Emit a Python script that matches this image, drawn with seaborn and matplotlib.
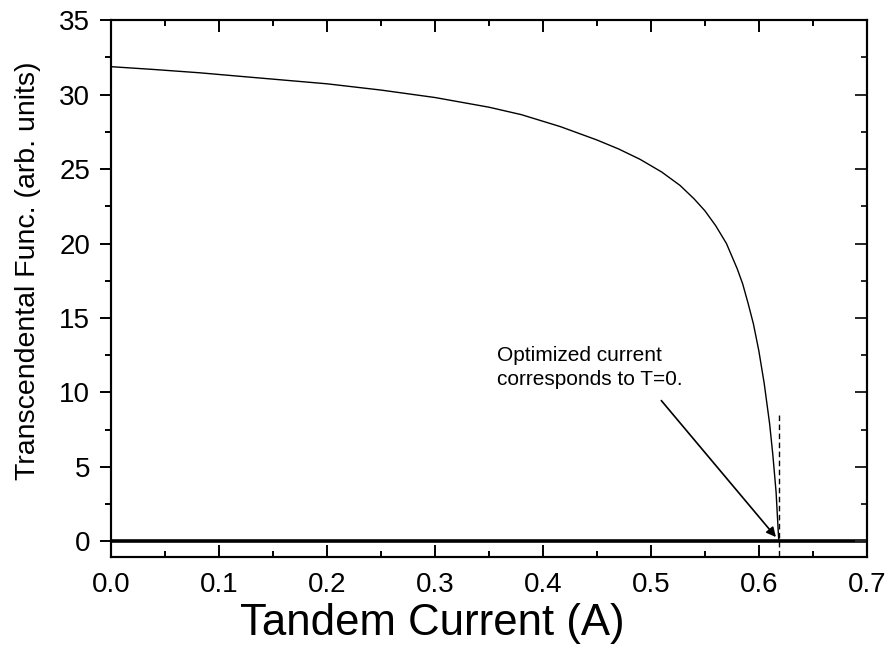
import matplotlib
matplotlib.use("Agg")
import matplotlib.pyplot as plt
import seaborn as sns
import pandas as pd
from matplotlib.ticker import MultipleLocator, FormatStrFormatter

current = [0.0, 0.04, 0.082, 0.12, 0.16, 0.2, 0.25, 0.3, 0.35, 0.38, 0.416, 0.45, 0.47, 0.49, 0.51,
           0.527, 0.54, 0.55, 0.56, 0.57, 0.58, 0.585, 0.59, 0.595, 0.60, 0.605, 0.61, 0.613,
           0.616, 0.6185]
func = [31.87, 31.68, 31.46, 31.22, 30.97, 30.72, 30.3, 29.8, 29.15, 28.65, 27.85, 26.95, 26.35,
        25.65, 24.8, 23.9, 23.0, 22.2, 21.2, 20.0, 18.3, 17.3, 16.0, 14.6, 12.8, 10.6, 7.9, 5.8,
        3.3, 0.0]

dash_x = [0.6185, 0.6185]
dash_y = [-1.0, 8.7]

sns.set_style("ticks")
plt.rcParams['font.family'] = ['Liberation Sans', 'DejaVu Sans']
plt.rcParams['text.color'] = 'black'
plt.rcParams['axes.labelcolor'] = 'black'

fig = plt.figure(figsize=(8.89, 6.47), dpi=100)
ax = fig.add_axes([0.125, 0.139, 0.85, 0.830])

df = pd.DataFrame({"x": current, "y": func})
sns.lineplot(data=df, x="x", y="y", ax=ax, color="black", linewidth=1.0, sort=False)
ax.plot(dash_x, dash_y, color="black", linestyle=(0, (4, 2.5)), linewidth=1.0)
ax.axhline(0, color="black", linewidth=2.6)

ax.set_xlim(0, 0.7)
ax.set_ylim(-1.05, 35)
ax.xaxis.set_major_locator(MultipleLocator(0.1))
ax.xaxis.set_minor_locator(MultipleLocator(0.05))
ax.yaxis.set_major_locator(MultipleLocator(5))
ax.yaxis.set_minor_locator(MultipleLocator(2.5))
ax.xaxis.set_major_formatter(FormatStrFormatter("%.1f"))
ax.yaxis.set_major_formatter(FormatStrFormatter("%d"))

ax.tick_params(which="both", width=1.4, colors="black", labelsize=20)
ax.tick_params(axis="x", which="both", direction="in", top=True, bottom=True, pad=11)
ax.tick_params(axis="x", which="major", length=8.5)
ax.tick_params(axis="x", which="minor", length=4.5)
ax.tick_params(axis="y", which="both", direction="out", left=True, right=False, pad=7)
ax.tick_params(axis="y", which="major", length=8)
ax.tick_params(axis="y", which="minor", length=4)

# mirrored inward ticks on the right side
ax2 = ax.twinx()
ax2.set_ylim(ax.get_ylim())
ax2.yaxis.set_major_locator(MultipleLocator(5))
ax2.yaxis.set_minor_locator(MultipleLocator(2.5))
ax2.tick_params(axis="y", which="both", direction="in", right=True, labelright=False, width=1.4)
ax2.tick_params(axis="y", which="major", length=8.5)
ax2.tick_params(axis="y", which="minor", length=4.5)
ax2.grid(False)

for a in (ax, ax2):
    for s in a.spines.values():
        s.set_linewidth(1.5)
        s.set_color("black")

ax.set_xlabel("Tandem Current (A)", fontsize=31.5, color="black")
ax.xaxis.set_label_coords(0.425, -0.086)
ax.set_ylabel("Transcendental Func. (arb. units)", fontsize=20.5, color="black")
ax.yaxis.set_label_coords(-0.093, 0.534)

ax.annotate("", xy=(0.6175, 0.15), xytext=(0.508, 9.6),
            arrowprops=dict(arrowstyle="-|>", color="black", lw=1.2, mutation_scale=14))
ax.text(0.357, 11.7, "Optimized current\ncorresponds to T=0.", fontsize=15, color="black",
        ha="left", va="center", linespacing=1.35)

fig.savefig("out.png", dpi=100)
